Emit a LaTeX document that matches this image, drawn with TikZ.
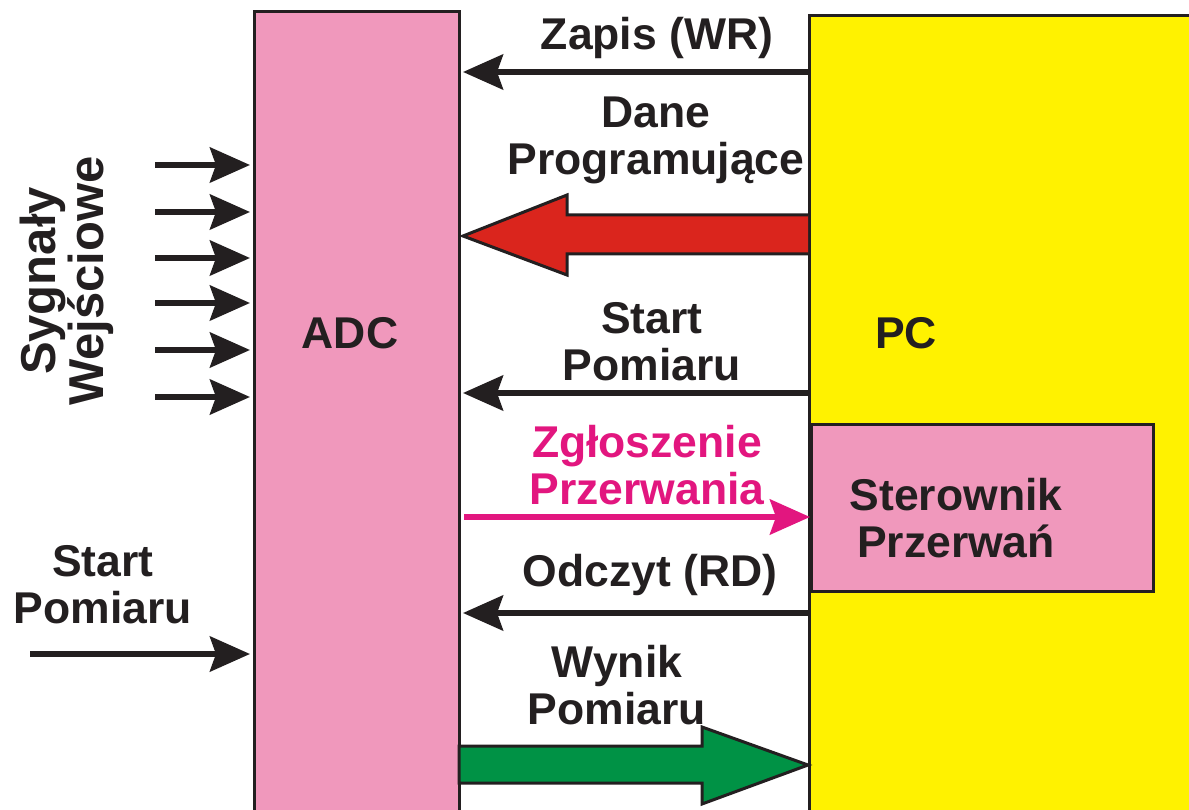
\documentclass[tikz,border=0pt]{standalone}
\usepackage{fontspec}
\setmainfont{Liberation Sans}
\usetikzlibrary{arrows.meta}
\definecolor{ink}{RGB}{35,31,32}
\definecolor{adcpink}{RGB}{240,152,188}
\definecolor{pcyellow}{RGB}{255,242,0}
\definecolor{busred}{RGB}{218,37,29}
\definecolor{busgreen}{RGB}{0,146,69}
\definecolor{irqmagenta}{RGB}{226,22,127}

\begin{document}
\begin{tikzpicture}[x=1pt,y=-1pt,
  lbl/.style={font=\bfseries\fontsize{44.5}{47}\selectfont, text=ink, align=center, inner sep=0pt},
  block/.style={draw=ink, line width=3pt, inner sep=0pt},
  sig/.style={draw=ink, line width=6pt, -{Stealth[length=40pt,width=35pt,inset=6pt]}},
  bus/.style={draw=ink, line width=3pt, line join=miter},
]
\useasboundingbox (0,0) rectangle (1189,810);
\clip (0,0) rectangle (1189,810);

% converter and computer blocks
\node[block, fill=adcpink, minimum width=205pt, minimum height=888pt] (adc) at (357,455.5) {};
\node[block, fill=pcyellow, minimum width=490pt, minimum height=884pt] (pc) at (1054.5,457.5) {};
\node[block, fill=adcpink, minimum width=342pt, minimum height=167pt] (ster) at (982.5,508) {};

% block captions
\node[lbl] (adclbl) at (350,333) {ADC};
\node[lbl] (pclbl) at (906,333) {PC};
\node[lbl] (sterlbl) at (956,518) {Sterownik\\Przerwań};

% wide data buses
\draw[bus, fill=busred] (pc.west |- 0,215) -- (567,215) -- (567,195)
  -- ([xshift=2pt]adc.east |- 0,236) -- (567,275) -- (567,254) -- (pc.west |- 0,254);
\draw[bus, fill=busgreen] ([xshift=-2pt]adc.east |- 0,746) -- (702,746) -- (702,727)
  -- (pc.west |- 0,765) -- (702,804) -- (702,783) -- ([xshift=-2pt]adc.east |- 0,783) -- cycle;

% control lines between the blocks
\draw[sig] (pc.west |- 0,72) -- ([xshift=2pt]adc.east |- 0,72);
\draw[sig] (pc.west |- 0,393) -- ([xshift=2pt]adc.east |- 0,393);
\draw[sig, draw=irqmagenta] ([xshift=3pt]adc.east |- 0,517) -- (ster.west |- 0,517);
\draw[sig] (pc.west |- 0,613) -- ([xshift=2pt]adc.east |- 0,613);

% analogue inputs
\foreach \yy/\nm in {165/a,212/b,258/c,303/d,350/e,397/f} {
  \coordinate (in\nm) at (155,\yy);
  \draw[sig, shorten >=3pt] (in\nm) -- (adc.west |- in\nm);
}
\coordinate (trig) at (30,654);
\draw[sig, shorten >=3pt] (trig) -- (adc.west |- trig);

% line labels
\node[lbl] (zapis) at (657,38) {Zapis (WR)};
\node[lbl] (dane) at (656,140) {Dane\\Programujące};
\node[lbl] (startr) at (652,342) {Start\\Pomiaru};
\node[lbl, text=irqmagenta] (zgl) at (647,465) {Zgłoszenie\\Przerwania};
\node[lbl] (odczyt) at (650,575) {Odczyt (RD)};
\node[lbl] (wynik) at (617,685) {Wynik\\Pomiaru};
\node[lbl] (startl) at (103,585) {Start\\Pomiaru};
\node[lbl, font=\bfseries\fontsize{49}{48}\selectfont, rotate=90] (syg) at (67,281) {Sygnały\\Wejściowe};
\end{tikzpicture}
\end{document}
